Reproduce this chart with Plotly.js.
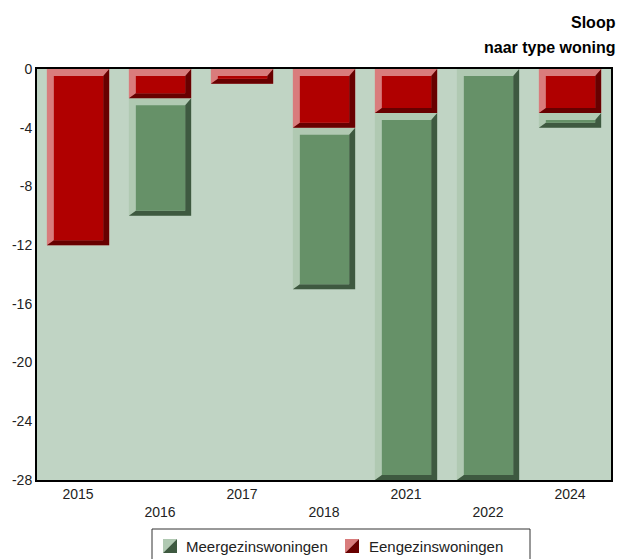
<!DOCTYPE html>
<html>
<head>
<meta charset="utf-8">
<script src="https://cdn.plot.ly/plotly-3.0.1.min.js"></script>
<style>html,body{margin:0;padding:0;background:#fff}#chart{width:619px;height:559px}</style>
</head>
<body>
<div id="chart"></div>
<script>
// ---- data ----
const categories = ['2015', '2016', '2017', '2018', '2021', '2022', '2024'];
const eengezins = [-12, -2, -1, -4, -3, 0, -3];
const meergezins = [0, -8, 0, -11, -25, -28, -1];
const yTicks = [0, -4, -8, -12, -16, -20, -24, -28];
const yTickLabels = ['0', '-4', '-8', '-12', '-16', '-20', '-24', '-28'];
const seriesNames = ['Meergezinswoningen', 'Eengezinswoningen'];
const titleLines = ['Sloop', 'naar type woning'];

// ---- styles ----
const FONT = 'Liberation Sans, Arial, sans-serif';
const C = {
  bg: '#c0d4c4',
  green: {light: '#b0c9b2', face: '#669168', dark: '#3e5940'},
  red: {light: '#d97c7c', face: '#b00000', dark: '#680000'}
};
const M = {l: 37, r: 8, t: 69, b: 79};
const FW = 619, FH = 559;
const W = FW - M.l - M.r, H = FH - M.t - M.b;
const xMin = -0.5, xMax = categories.length - 0.5, yMin = -28, yMax = 0;
const dx = (xMax - xMin) / W, dy = (yMax - yMin) / H;
const BW = 0.76;
const px = v => (v - M.l) / W;
const py = v => (FH - M.b - v) / H;

const idx = categories.map((c, i) => i);
const shapes = [];

function segment(i, top, bottom, col) {
  if (top - bottom <= 0) return;
  const x0 = i - BW / 2, x1 = i + BW / 2;
  const bl = 7 * dx, br = 6 * dx, bt = 7 * dy, bb = 5 * dy;
  shapes.push({
    type: 'path', xref: 'x', yref: 'y', layer: 'above',
    path: `M${x1},${top} L${x1},${bottom} L${x0},${bottom} L${x0 + bl},${bottom + bb} L${x1 - br},${bottom + bb} L${x1 - br},${top - bt} Z`,
    fillcolor: col.dark, line: {width: 0}
  });
  if (top - bt > bottom + bb) {
    shapes.push({
      type: 'rect', xref: 'x', yref: 'y', layer: 'above',
      x0: x0 + bl, x1: x1 - br, y0: bottom + bb, y1: top - bt,
      fillcolor: col.face, line: {width: 0}
    });
  }
}

idx.forEach(i => {
  segment(i, 0, eengezins[i], C.red);
  segment(i, eengezins[i], eengezins[i] + meergezins[i], C.green);
});

// ---- legend (manual) ----
const annotations = [];
shapes.push({
  type: 'rect', xref: 'paper', yref: 'paper', layer: 'above',
  x0: px(152), x1: px(530), y0: py(529), y1: py(575),
  fillcolor: 'rgba(0,0,0,0)', line: {color: '#333', width: 1}
});
const legendItems = [
  {name: seriesNames[0], col: C.green, ix: 163, tx: 184},
  {name: seriesNames[1], col: C.red, ix: 345, tx: 367}
];
legendItems.forEach(it => {
  const x0 = px(it.ix), x1 = px(it.ix + 14), y0 = py(539), y1 = py(553);
  shapes.push({type: 'path', xref: 'paper', yref: 'paper', layer: 'above',
    path: `M${x0},${y0} L${x1},${y0} L${x0},${y1} Z`, fillcolor: it.col.light, line: {width: 0}});
  shapes.push({type: 'path', xref: 'paper', yref: 'paper', layer: 'above',
    path: `M${x1},${y0} L${x1},${y1} L${x0},${y1} Z`, fillcolor: it.col.dark, line: {width: 0}});
  annotations.push({xref: 'paper', yref: 'paper', x: px(it.tx), y: py(546), xanchor: 'left', yanchor: 'middle',
    text: it.name, showarrow: false, font: {family: FONT, size: 15, color: '#222'}});
});

// ---- title ----
annotations.push({xref: 'paper', yref: 'paper', x: px(618), y: py(23), xanchor: 'right', yanchor: 'middle',
  text: '<b>' + titleLines[0] + '</b>', showarrow: false, font: {family: FONT, size: 16, color: '#000'}});
annotations.push({xref: 'paper', yref: 'paper', x: px(618), y: py(47), xanchor: 'right', yanchor: 'middle',
  text: '<b>' + titleLines[1] + '</b>', showarrow: false, font: {family: FONT, size: 16, color: '#000'}});

const traces = [
  {type: 'bar', name: seriesNames[1], x: idx, y: eengezins, width: BW,
   marker: {color: C.red.light, line: {width: 0}}, showlegend: false, hoverinfo: 'skip'},
  {type: 'bar', name: seriesNames[0], x: idx, y: meergezins, width: BW,
   marker: {color: C.green.light, line: {width: 0}}, showlegend: false, hoverinfo: 'skip'}
];

const layout = {
  width: FW, height: FH,
  margin: M,
  paper_bgcolor: '#ffffff', plot_bgcolor: C.bg,
  barmode: 'relative',
  showlegend: false,
  font: {family: FONT, size: 14, color: '#222'},
  xaxis: {
    range: [xMin, xMax], tickmode: 'array', tickvals: idx,
    ticktext: categories.map((c, i) => i % 2 === 0 ? c : '<br>' + c),
    showgrid: false, zeroline: false, ticks: '', showline: true, mirror: true,
    linecolor: '#000', linewidth: 2, fixedrange: true,
    tickfont: {family: FONT, size: 14, color: '#222'}
  },
  yaxis: {
    range: [yMin, yMax], tickmode: 'array', tickvals: yTicks, ticktext: yTickLabels,
    showgrid: false, zeroline: false, ticks: '', showline: true, mirror: true,
    linecolor: '#000', linewidth: 2, fixedrange: true,
    tickfont: {family: FONT, size: 14, color: '#222'}
  },
  shapes: shapes,
  annotations: annotations
};

Plotly.newPlot('chart', traces, layout, {displayModeBar: false, staticPlot: true});
</script>
</body>
</html>
